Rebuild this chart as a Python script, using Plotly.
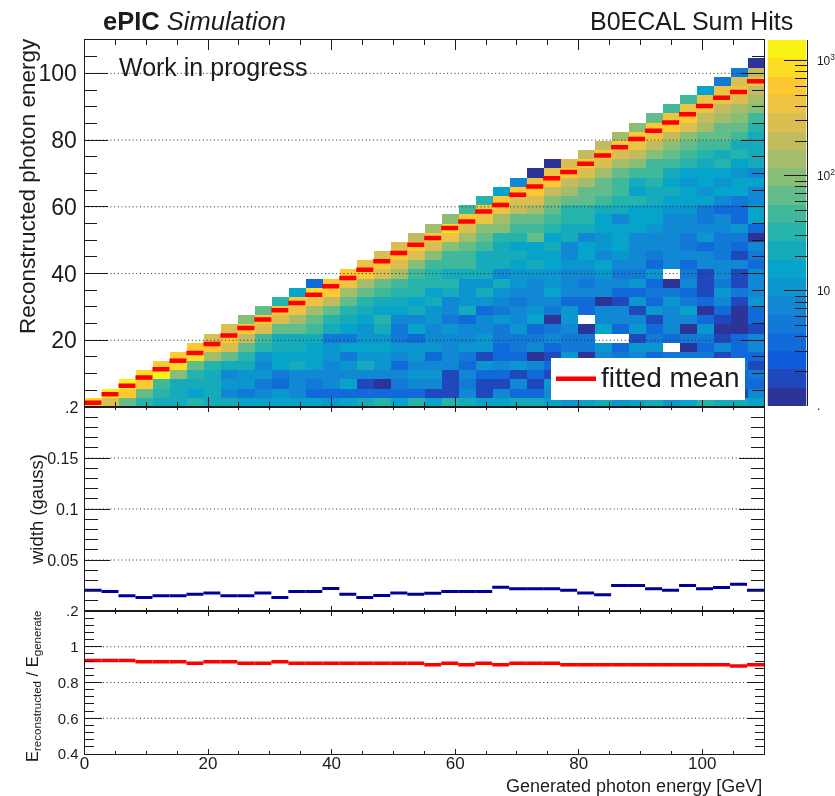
import numpy as np
import plotly.graph_objects as go

W, H = 835, 796

# ---------- data ----------
x_major = [0, 20, 40, 60, 80, 100]
main_y_major = [20, 40, 60, 80, 100]
width_y_ticks = [0.05, 0.1, 0.15, 0.2]
width_y_text = ["0.05", "0.1", "0.15", ".2"]
ratio_y_ticks = [0.4, 0.6, 0.8, 1.0, 1.2]
ratio_y_text = ["0.4", "0.6", "0.8", "1", ".2"]

# fitted mean / generated, one value per 2.75 GeV bin
fitted_ratio = [
    0.923, 0.923, 0.923, 0.916, 0.916, 0.916, 0.907, 0.916, 0.916, 0.907,
    0.907, 0.916, 0.907, 0.907, 0.907, 0.907, 0.907, 0.907, 0.907, 0.907,
    0.899, 0.907, 0.899, 0.907, 0.899, 0.907, 0.907, 0.907, 0.899, 0.899,
    0.899, 0.899, 0.899, 0.899, 0.899, 0.899, 0.899, 0.899, 0.892, 0.899,
]
# fitted gaussian width per bin
width_gauss = [
    0.0203, 0.0190, 0.0150, 0.0133, 0.0150, 0.0150, 0.0163, 0.0177, 0.0150, 0.0150,
    0.0177, 0.0133, 0.0190, 0.0190, 0.0220, 0.0163, 0.0133, 0.0153, 0.0177, 0.0163,
    0.0173, 0.0190, 0.0190, 0.0190, 0.0233, 0.0217, 0.0217, 0.0217, 0.0203, 0.0177,
    0.0160, 0.0250, 0.0250, 0.0217, 0.0203, 0.0250, 0.0217, 0.0230, 0.0263, 0.0203,
]
# colour reading of every cell, column by column, bottom row first; -1 = empty cell
level_by_column = [
    [17],
    [14, 18],
    [10, 16, 18],
    [8, 10, 16, 17],
    [7, 8, 9, 18, 16],
    [7, 7, 7, 11, 17, 16],
    [8, 6, 7, 8, 10, 17, 16],
    [7, 7, 7, 7, 8, 12, 16, 14],
    [7, 4, 5, 4, 7, 10, 14, 16, 14],
    [6, 3, 5, 5, 7, 8, 10, 13, 16, 11],
    [6, 4, 3, 5, 4, 5, 8, 9, 14, 16, 10],
    [6, 5, 2, 3, 6, 6, 7, 7, 10, 14, 16, 8],
    [6, 4, 4, 4, 7, 6, 7, 7, 10, 12, 15, 16, 6],
    [6, 2, 3, 4, 6, 6, 6, 7, 9, 10, 12, 15, 17, 2],
    [5, 2, 4, 4, 4, 5, 5, 3, 7, 8, 10, 13, 16, 16],
    [6, 2, 6, 4, 5, 3, 6, 3, 6, 7, 8, 10, 12, 15, 16],
    [7, 2, 1, 4, 7, 5, 6, 5, 5, 6, 7, 8, 10, 12, 16, 15],
    [8, 2, 0, 4, 5, 5, 6, 5, 7, 8, 6, 7, 9, 10, 14, 16, 14],
    [6, 2, 3, 4, 2, 4, 5, 3, 3, 4, 6, 7, 8, 9, 12, 14, 16, 14],
    [8, 2, 4, 5, 4, 5, 5, 2, 6, 4, 7, 6, 8, 8, 9, 11, 14, 16, 13],
    [6, 1, 4, 5, 4, 2, 5, 4, 4, 5, 5, 7, 6, 8, 8, 9, 11, 14, 16, 12],
    [8, 1, 1, 1, 4, 4, 4, 4, 5, 3, 4, 4, 7, 8, 7, 9, 9, 11, 15, 17, 11],
    [7, 4, 3, 4, 2, 3, 5, 4, 4, 2, 7, 5, 5, 5, 7, 9, 9, 10, 12, 14, 16, 9],
    [6, 1, 1, 2, 5, 1, 5, 5, 4, 4, 2, 5, 7, 5, 7, 7, 7, 9, 10, 11, 15, 16, 8],
    [6, 4, 1, 2, 4, 2, 2, 3, 3, 5, 3, 4, 5, 7, 4, 7, 7, 7, 8, 11, 12, 15, 16, 6],
    [7, 2, 4, 1, 5, 2, 3, 3, 5, 4, 4, 3, 4, 5, 5, 6, 7, 6, 8, 9, 10, 13, 14, 16, 4],
    [7, 2, 1, 2, 4, 0, 4, 3, 2, 6, 5, 4, 4, 4, 5, 7, 6, 6, 10, 9, 10, 12, 14, 16, 15, 0],
    [6, 4, 5, 1, 2, 1, 2, 4, 3, 0, 3, 4, 6, 5, 5, 6, 6, 7, 6, 8, 9, 10, 11, 13, 16, 15, 0],
    [5, 3, 3, 3, 3, 5, 3, 3, 4, 5, 5, 2, 4, 4, 4, 5, 4, 4, 7, 7, 8, 8, 10, 12, 13, 16, 14],
    [6, 3, 2, 3, 3, 0, 3, 3, 0, -1, 2, 2, 4, 3, 4, 5, 6, 6, 4, 7, 8, 8, 10, 10, 12, 14, 16, 13],
    [7, 3, 3, 3, 3, 4, 5, -1, 6, 4, 4, 0, 4, 4, 5, 6, 4, 5, 5, 6, 6, 7, 9, 10, 10, 12, 14, 16, 13],
    [5, 3, 3, 3, 3, 3, 2, -1, 2, 4, 4, 1, 2, 4, 3, 4, 5, 6, 6, 6, 4, 7, 8, 9, 9, 10, 12, 14, 16, 12],
    [6, 3, 3, 3, 3, 4, 5, 1, 5, 4, 1, 5, 2, 5, 3, 4, 4, 4, 4, 6, 6, 6, 8, 6, 7, 9, 11, 13, 15, 16, 11],
    [7, 3, 3, 3, 3, 2, 5, 3, 2, 1, 5, 2, 3, 2, 5, 2, 3, 4, 4, 5, 6, 6, 7, 7, 8, 9, 9, 11, 13, 15, 16, 10],
    [5, 3, 3, 3, 3, 3, -1, 2, 4, 4, 4, 5, 3, 0, -1, 4, 4, 4, 4, 4, 4, 5, 6, 7, 6, 7, 9, 10, 11, 13, 16, 15, 9],
    [6, 3, 3, 3, 3, 3, 0, 3, 0, 4, 6, 3, 2, 4, 3, 2, 4, 3, 3, 4, 4, 5, 6, 6, 5, 6, 8, 9, 10, 11, 14, 16, 15, 9],
    [8, 3, 3, 3, 3, 3, 2, 3, 5, 2, 0, 2, 1, 1, 1, 4, 4, 2, 5, 4, 3, 3, 6, 5, 6, 6, 7, 8, 9, 10, 12, 13, 15, 15, 6],
    [7, 3, 3, 3, 3, 1, 4, 1, 0, 1, 2, 4, 5, 3, 4, 4, 3, 3, 3, 4, 4, 2, 4, 6, 5, 6, 8, 7, 9, 10, 10, 12, 13, 15, 15, 3],
    [7, 1, 2, 2, 3, 2, 2, 2, 0, 0, 0, 1, 3, 1, 1, 4, 1, 2, 3, 5, 2, 2, 3, 6, 6, 5, 6, 8, 7, 9, 10, 11, 12, 14, 15, 14, 3],
    [6, 4, 2, 3, 1, 2, 4, 4, 1, 2, 2, 5, 4, 4, 4, 2, 3, 4, 0, 2, 6, 6, 4, 4, 6, 4, 7, 7, 7, 7, 8, 9, 11, 12, 13, 15, 13, 0],
]
# count estimated for each colour reading
level_counts = [1, 2, 3.5, 5, 7, 11, 16, 23, 33, 47, 68, 98, 141, 203, 293, 423, 611, 881, 1271]
bar_tick_vals = [1, 10, 100, 1000]
bar_tick_text = [".", "10", "10<sup>2</sup>", "10<sup>3</sup>"]
bar_minor_vals = [2, 3, 4, 5, 6, 7, 8, 9, 20, 30, 40, 50, 60, 70, 80, 90, 200, 300, 400, 500, 600, 700, 800, 900]

# ---------- helpers and styling ----------
N_BINS = 40
AX_MAX = 110.0
LOG_MAX = 3.18
edges = np.linspace(0, AX_MAX, N_BINS + 1)
centers = 0.5 * (edges[:-1] + edges[1:])

BIRD = [(0.2082, 0.1664, 0.5293), (0.0592, 0.3599, 0.8684), (0.0780, 0.5041, 0.8385),
        (0.0232, 0.6419, 0.7914), (0.1802, 0.7178, 0.6425), (0.5301, 0.7492, 0.4662),
        (0.8186, 0.7328, 0.3499), (0.9956, 0.7862, 0.1968), (0.9764, 0.9832, 0.0539)]
stops = np.linspace(0, 1, len(BIRD))


def bird(t):
    return "rgb(%d,%d,%d)" % tuple(round(255 * np.interp(t, stops, [c[k] for c in BIRD])) for k in range(3))


colorscale = []
for k in range(20):
    col = bird((k + 0.5) / 20)
    colorscale += [[k / 20, col], [(k + 1) / 20, col]]


def segments(xl, values):
    xs, ys = [], []
    for i, v in enumerate(values):
        xs += [xl[i], xl[i + 1], None]
        ys += [v, v, None]
    return xs, ys


def add_grid(levels, xa, ya):
    gx, gy = [], []
    for v in levels:
        gx += [0, AX_MAX, None]
        gy += [v, v, None]
    fig.add_trace(go.Scatter(x=gx, y=gy, mode="lines", line=dict(color="#2a2a2a", width=1, dash="1px,2.7px"),
                             showlegend=False, hoverinfo="skip", xaxis=xa, yaxis=ya))


z = [[None] * N_BINS for _ in range(N_BINS)]
for i, col in enumerate(level_by_column):
    for r, b in enumerate(col):
        if b >= 0:
            z[r][i] = float(np.log10(level_counts[b]))

fitted_mean = [r * c for r, c in zip(fitted_ratio, centers)]

LEFT, RIGHT = 84.5, 764.0
Y_TOP, Y_MAIN, Y_MID, Y_BOT = 40.0, 407.0, 611.0, 754.0
INK = "#1c1c1c"
FONT = "Liberation Sans"


def fy(px):
    return 1 - px / H


def fx(px):
    return px / W


fig = go.Figure()
# main panel: heatmap on the left axis, grid and fitted mean on the right-hand overlay axis
fig.add_trace(go.Heatmap(x=edges, y=edges, z=z, colorscale=colorscale, zmin=0, zmax=LOG_MAX,
                         showscale=False, hoverinfo="skip", xaxis="x", yaxis="y"))
add_grid(main_y_major, "x", "y5")
sx, sy = segments(edges, fitted_mean)
fig.add_trace(go.Scatter(x=sx, y=sy, mode="lines",
                         name='<span style="font-size:28px">fitted mean</span>',
                         line=dict(color="#ff0000", width=4.5),
                         hoverinfo="skip", xaxis="x", yaxis="y5"))
# width panel
add_grid(width_y_ticks[:-1], "x2", "y2")
sx, sy = segments(edges, width_gauss)
fig.add_trace(go.Scatter(x=sx, y=sy, mode="lines", line=dict(color="#000099", width=3),
                         showlegend=False, hoverinfo="skip", xaxis="x2", yaxis="y6"))
# ratio panel
add_grid(ratio_y_ticks[1:-1], "x3", "y3")
sx, sy = segments(edges, fitted_ratio)
fig.add_trace(go.Scatter(x=sx, y=sy, mode="lines", line=dict(color="#ff0000", width=3.5),
                         showlegend=False, hoverinfo="skip", xaxis="x3", yaxis="y7"))
# palette bar
bar_edges = [10 ** (k * LOG_MAX / 20) for k in range(21)]
bar_z = [[(k + 0.5) * LOG_MAX / 20] for k in range(20)]
fig.add_trace(go.Heatmap(x=[0, 1], y=bar_edges, z=bar_z, colorscale=colorscale, zmin=0, zmax=LOG_MAX,
                         showscale=False, hoverinfo="skip", xaxis="x4", yaxis="y4"))


def xax(anchor, top_len, minor_len, labels=False):
    return dict(domain=[fx(LEFT), fx(RIGHT)], range=[0, AX_MAX], anchor=anchor, tickmode="array",
                tickvals=x_major, ticks="inside", ticklen=top_len, tickwidth=1, tickcolor=INK,
                showticklabels=labels, tickfont=dict(size=17, color=INK, family=FONT), ticklabelstandoff=-6,
                showline=True, linecolor=INK, linewidth=1, mirror="ticks", showgrid=False, zeroline=False,
                minor=dict(tickmode="array", tickvals=[v for v in range(0, 110, 5) if v % 20],
                           ticks="inside", ticklen=minor_len, tickwidth=1, tickcolor=INK, showgrid=False))


def yax(top, bot, rng, vals, text, major, minor_vals, minor, size, anchor):
    return dict(domain=[fy(bot), fy(top)], range=rng, anchor=anchor, tickmode="array", tickvals=vals,
                ticktext=text, ticks="inside", ticklen=major, tickwidth=1, tickcolor=INK,
                tickfont=dict(size=size, color=INK, family=FONT), ticklabelstandoff=2,
                showline=True, linecolor=INK, linewidth=1, zeroline=False, showgrid=False,
                minor=dict(tickmode="array", tickvals=minor_vals, ticks="inside", ticklen=minor,
                           tickwidth=1, tickcolor=INK, showgrid=False))


def right_of(ax, over):
    out = dict(ax)
    out.update(side="right", overlaying=over, showticklabels=False)
    return out


main_y = yax(Y_TOP, Y_MAIN, [0, AX_MAX], main_y_major, [str(v) for v in main_y_major], 23,
             [v for v in range(5, 110, 5) if v % 20], 12, 23, "x")
mid_y = yax(Y_MAIN, Y_MID, [0, 0.2], width_y_ticks, width_y_text, 25,
            [round(0.01 * v, 2) for v in range(1, 20) if v % 5], 13, 16, "x2")
bot_y = yax(Y_MID, Y_BOT, [0.4, 1.2], ratio_y_ticks, ratio_y_text, 17,
            [round(0.4 + 0.04 * v, 2) for v in range(1, 20) if v % 5], 9, 15, "x3")

fig.update_layout(
    width=W, height=H, margin=dict(l=0, r=0, t=0, b=0, autoexpand=False), paper_bgcolor="white",
    plot_bgcolor="rgba(0,0,0,0)", hovermode=False, font=dict(family=FONT, color=INK),
    xaxis=xax("y", 10, 5),
    xaxis2=xax("y2", 5, 3),
    xaxis3=xax("y3", 5, 3, labels=True),
    xaxis4=dict(domain=[fx(767.5), fx(806.5)], range=[0, 1], anchor="y4", visible=False),
    yaxis=main_y,
    yaxis2=mid_y,
    yaxis3=bot_y,
    yaxis5=right_of(main_y, "y"),
    yaxis6=right_of(mid_y, "y2"),
    yaxis7=right_of(bot_y, "y3"),
    yaxis4=dict(domain=[fy(406), fy(Y_TOP)], type="log", range=[0, LOG_MAX], anchor="x4", side="right",
                tickmode="array", tickvals=bar_tick_vals, ticktext=bar_tick_text, ticks="inside", ticklen=23,
                tickwidth=1, tickcolor=INK, showline=True, linecolor=INK, linewidth=1, showgrid=False,
                zeroline=False, tickfont=dict(size=12, color=INK, family=FONT), ticklabelstandoff=7,
                minor=dict(tickmode="array", tickvals=bar_minor_vals, ticks="inside", ticklen=12,
                           tickwidth=1, tickcolor=INK, showgrid=False)),
    legend=dict(x=fx(551), y=fy(358), xanchor="left", yanchor="top", bgcolor="white", borderwidth=0,
                font=dict(size=22, color=INK, family=FONT), itemwidth=40, entrywidth=161,
                entrywidthmode="pixels"),
    showlegend=True,
)


def note(text, px, py, size, xanchor="left", angle=0, yanchor="middle"):
    fig.add_annotation(text=text, xref="paper", yref="paper", x=fx(px), y=fy(py), xanchor=xanchor,
                       yanchor=yanchor, showarrow=False, textangle=angle,
                       font=dict(size=size, color=INK, family=FONT))


note("<b>ePIC</b> <i>Simulation</i>", 101, 21, 25.5)
note("B0ECAL Sum Hits", 795, 21, 25, xanchor="right")
note("Work in progress", 117, 67, 25)
note("Generated photon energy [GeV]", 764, 786, 18, xanchor="right")
note("Reconstructed photon energy", 27, 186, 22.5, xanchor="center", angle=-90)
note("width (gauss)", 36, 510, 18.5, xanchor="center", angle=-90)
note("E<sub>reconstructed</sub> / E<sub>generate</sub>", 33, 687, 16.5, xanchor="center", angle=-90)

fig.write_html("out.html", config=dict(displayModeBar=False),
               post_script="document.body.style.margin='0';document.body.style.overflow='hidden';"
                           "document.body.style.filter='blur(0.4px)';")
